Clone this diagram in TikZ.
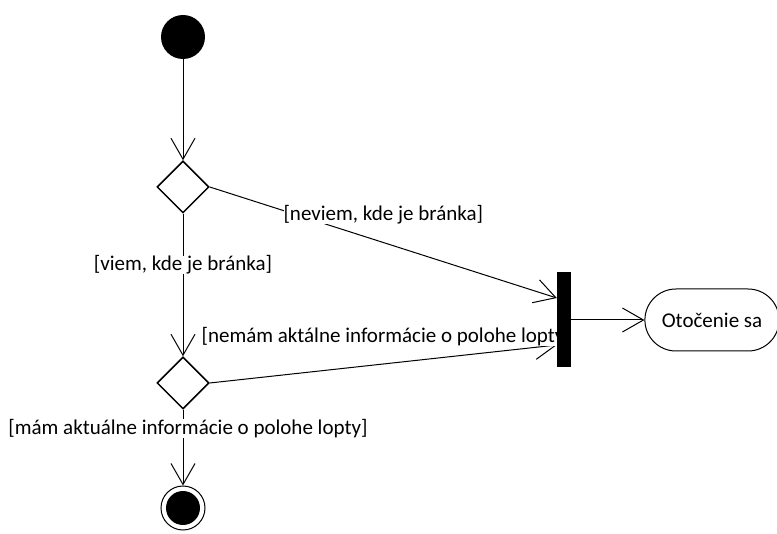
\documentclass[tikz,border=0pt]{standalone}
\usepackage{fontspec}
\setmainfont{Carlito}
\usetikzlibrary{arrows.meta, positioning, shapes.geometric, shapes.misc, backgrounds}
\tikzset{
    x=1pt, y=-1pt, % pixel like units, y going down
    every edge/.style={draw, line width=1pt, -{Straight Barb[length=21pt,width=24pt]}}, % open arrow heads
    start/.style={circle, fill=black, minimum size=44pt, inner sep=0pt},
    stop/.style={circle, draw, line width=1pt, minimum size=44pt, inner sep=0pt,
        path picture={\fill (path picture bounding box.center) circle (17pt);}},
    decision/.style={diamond, draw, line width=1.5pt, aspect=1, minimum width=52pt, minimum height=52pt, inner sep=0pt},
    fork/.style={rectangle, fill=black, minimum width=14pt, minimum height=95pt, inner sep=0pt},
    action/.style={rounded rectangle, draw, line width=1pt, minimum height=62pt, inner xsep=16pt},
    guard/.style={fill=white, inner sep=0pt}, % text on the edges
    node distance=150pt,
}

\begin{document}
\begin{tikzpicture}[font=\fontsize{21}{25}\selectfont]
    \useasboundingbox (0,0) rectangle (777,534);
    \node[start] (init) at (183,37) {};
    \node[decision, below of=init] (d1) {};
    \node[decision, below of=d1, node distance=196pt] (d2) {};
    \node[stop, below of=d2, node distance=125pt] (final) {};
    \node[fork] (join) at (564,320) {};
    \node[action, right of=join, node distance=148pt] (turn) {Otočenie sa};
    % edges under the nodes, so the bar stays whole
    \begin{pgfonlayer}{background}
    \draw (init) edge (d1.north)
    (d1.south) edge node[guard, pos=0.36] {[viem, kde je bránka]} (d2.north)
    (d1.east) edge node[guard, pos=0.5, yshift=28pt] {[neviem, kde je bránka]} ([yshift=22pt]join.west)
    (d2.east) edge node[guard, pos=0.5, yshift=27pt, xshift=3pt] {[nemám aktálne informácie o polohe lopty]} ([yshift=-25pt]join.west)
    (d2.south) edge node[guard, pos=0.25, xshift=5pt] {[mám aktuálne informácie o polohe lopty]} (final)
    (join) edge (turn);
    \end{pgfonlayer}
\end{tikzpicture}
\end{document}
